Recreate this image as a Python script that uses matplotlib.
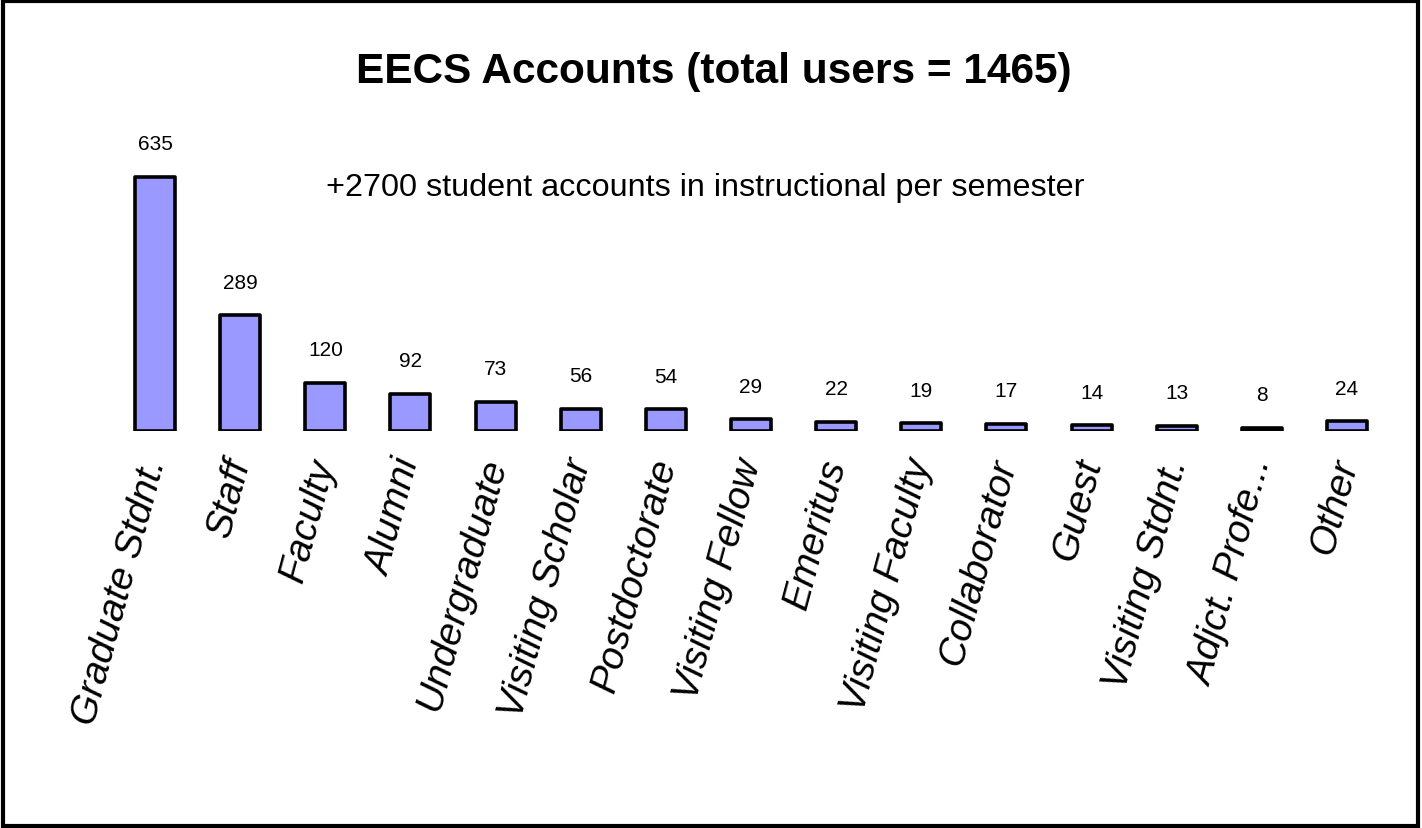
import matplotlib.pyplot as plt
from matplotlib.patches import Rectangle

# account categories and user counts
categories = ["Graduate Stdnt.", "Staff", "Faculty", "Alumni", "Undergraduate",
              "Visiting Scholar", "Postdoctorate", "Visiting Fellow", "Emeritus",
              "Visiting Faculty", "Collaborator", "Guest", "Visiting Stdnt.",
              "Adjct. Profe...", "Other"]
counts = [635, 289, 120, 92, 73, 56, 54, 29, 22, 19, 17, 14, 13, 8, 24]

title = "EECS Accounts (total users = 1465)"
note = "+2700 student accounts in instructional per semester"

plt.rcParams['font.family'] = ['Liberation Sans', 'DejaVu Sans']

fig = plt.figure(figsize=(14.22, 8.29), dpi=100)
ax = fig.add_axes([112.5 / 1422, 1 - 432 / 829, 1277 / 1422, 322 / 829])

x = range(len(categories))
bars = ax.bar(x, counts, width=0.47, color="#9999FF", edgecolor="black",
              linewidth=2.6, joinstyle="round")

# value labels above each bar
for xi, v in zip(x, counts):
    ax.annotate(str(v), (xi, v), xytext=(0, 24), textcoords="offset points",
                ha="center", va="center", fontsize=15)

ax.set_xlim(-0.5, len(categories) - 0.5)
ax.set_ylim(0, 805)
ax.set_yticks([])
ax.set_xticks(list(x))
ax.set_xticklabels(categories, rotation=75, ha="right", va="center",
                   rotation_mode="anchor", fontsize=28, fontstyle="italic")
ax.tick_params(axis="x", length=0, pad=20)
for s in ax.spines.values():
    s.set_visible(False)

fig.text(0.502, 0.913, title, ha="center", va="center", fontsize=30.5,
         fontweight="bold")
fig.text(0.496, 0.773, note, ha="center", va="center", fontsize=23.3)

# border around the whole picture
fig.patches.append(Rectangle((0.002, 0.003), 0.995, 0.994, transform=fig.transFigure,
                             fill=False, edgecolor="black", linewidth=3))

fig.savefig("out.png", dpi=100)
